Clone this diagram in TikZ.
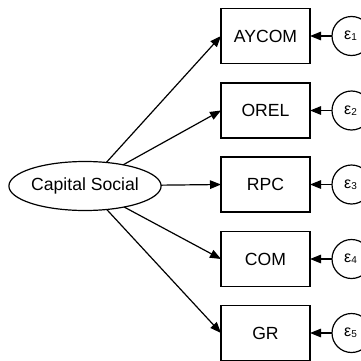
\documentclass[tikz,border=0pt]{standalone}
\usepackage{fontspec}
\setmainfont{Liberation Sans}
\usetikzlibrary{arrows.meta,shapes.geometric}
\begin{document}
\begin{tikzpicture}[x=1pt,y=1pt,
  every node/.style={inner sep=0pt,outer sep=0pt},
  path/.style={line width=1.2pt,-{Triangle[length=11pt,width=8.5pt]}},
  obs/.style={draw,line width=1.2pt,minimum width=89pt,minimum height=55pt,
    font=\fontsize{17.6}{17.6}\selectfont},
  lat/.style={draw,line width=1.2pt,ellipse,minimum width=148pt,minimum height=49pt,
    font=\fontsize{17.6}{17.6}\selectfont},
  err/.style={draw,line width=1.2pt,circle,minimum size=39pt}]
\useasboundingbox (0,0) rectangle (361,360);
% latent factor
\node[lat] (cs) at (85,174) {Capital Social};
% observed indicators
\node[obs] (y1) at (265.5,324) {AYCOM};
\node[obs] (y2) at (265.5,249.5) {OREL};
\node[obs] (y3) at (265.5,175.5) {RPC};
\node[obs] (y4) at (265.5,101) {COM};
\node[obs] (y5) at (265.5,27) {GR};
% error terms
\foreach \i/\y in {1/324,2/249.5,3/175.5,4/101,5/27}{
  \node[err] (e\i) at (351.5,\y)
    {\hspace*{-2pt}{\fontsize{16}{16}\selectfont ε}\raisebox{-1pt}{\fontsize{10}{10}\selectfont\i}};
  \draw[path] (e\i) -- (y\i.east);
}
% loadings
\foreach \i in {1,...,5}{
  \draw[path] (cs) -- (y\i.west);
}
\end{tikzpicture}
\end{document}
